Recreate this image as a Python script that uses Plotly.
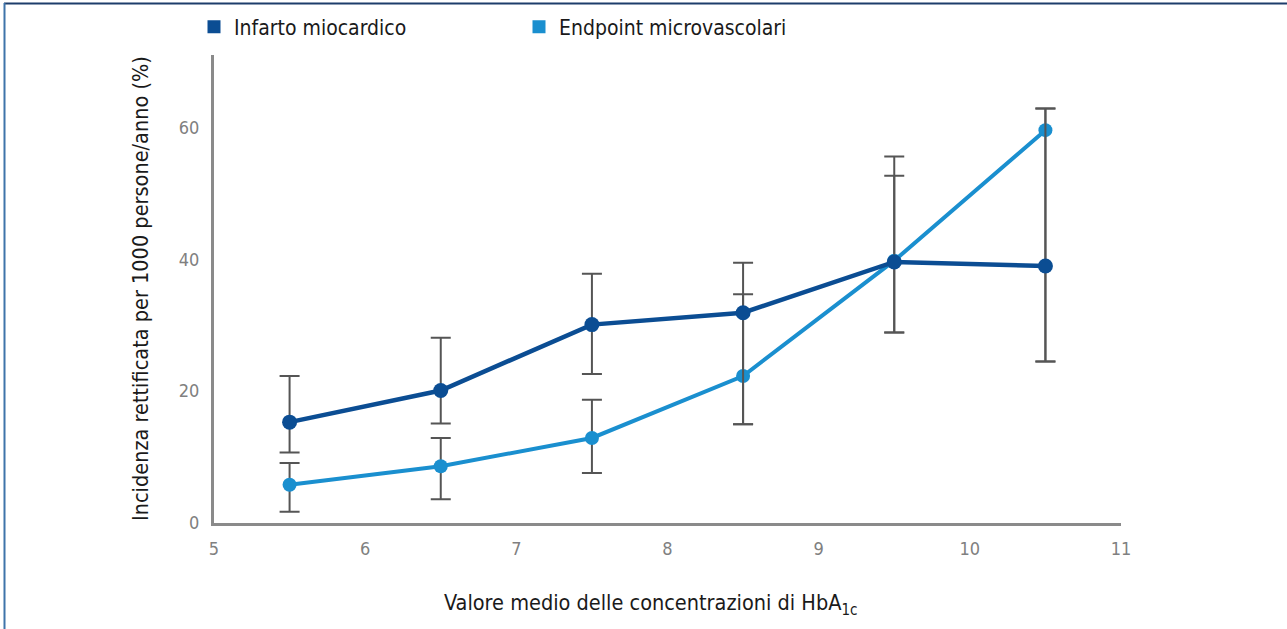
import plotly.graph_objects as go

# HbA1c classes (mean value of each band)
hba1c = [5.5, 6.5, 7.5, 8.5, 9.5, 10.5]

# Myocardial infarction: adjusted incidence and confidence limits
infarto = [15.3, 20.1, 30.1, 31.9, 39.6, 39.0]
infarto_hi = [22.3, 28.1, 37.8, 39.5, 55.6, 62.9]
infarto_lo = [10.7, 15.1, 22.6, 15.0, 28.9, 24.5]

# Microvascular endpoints: adjusted incidence and confidence limits
micro = [5.8, 8.6, 12.9, 22.3, 39.8, 59.6]
micro_hi = [9.1, 12.9, 18.7, 34.7, 52.7, 62.9]
micro_lo = [1.7, 3.6, 7.6, 15.0, 28.9, 24.5]

x_ticks = [5, 6, 7, 8, 9, 10, 11]
y_ticks = [0, 20, 40, 60]

DARK = "#0b4d93"
LIGHT = "#1a8fcf"
ERR = "#555555"
FONT = "Liberation Sans Narrow, DejaVu Sans Condensed, Roboto Condensed, sans-serif"

W, H = 1287, 629
ML, MR, MT, MB = 214, 166, 55, 106
PW, PH = W - ML - MR, H - MT - MB


def px_x(p):
    return (p - ML) / PW


def px_y(p):
    return (H - MB - p) / PH


def err(vals, hi, lo):
    return dict(
        type="data",
        symmetric=False,
        array=[h - v for h, v in zip(hi, vals)],
        arrayminus=[v - l for v, l in zip(vals, lo)],
        color=ERR,
        thickness=2,
        width=10,
    )


fig = go.Figure()

fig.add_trace(go.Scatter(
    x=hba1c, y=micro, mode="lines+markers",
    line=dict(color=LIGHT, width=4),
    marker=dict(color=LIGHT, size=14),
    error_y=err(micro, micro_hi, micro_lo),
    showlegend=False,
))
fig.add_trace(go.Scatter(
    x=hba1c, y=infarto, mode="lines+markers",
    line=dict(color=DARK, width=4.5),
    marker=dict(color=DARK, size=15),
    error_y=err(infarto, infarto_hi, infarto_lo),
    showlegend=False,
))

# legend entries drawn as squares
for name, col in [("Infarto miocardico", DARK), ("Endpoint microvascolari", LIGHT)]:
    fig.add_trace(go.Scatter(
        x=[None], y=[None], mode="markers", name=name,
        marker=dict(color=col, size=13, symbol="square"),
    ))

fig.update_layout(
    width=W, height=H,
    margin=dict(l=ML, r=MR, t=MT, b=MB, autoexpand=False),
    paper_bgcolor="white", plot_bgcolor="white",
    font=dict(family=FONT, color="#222222"),
    legend=dict(
        orientation="h", x=px_x(194), xanchor="left",
        y=px_y(27), yanchor="middle",
        font=dict(size=21, color="#1a1a1a"),
        entrywidth=280, itemclick=False,
        bgcolor="rgba(0,0,0,0)",
    ),
    xaxis=dict(
        range=[5, 11], tickvals=x_ticks, ticks="", showgrid=False,
        zeroline=False, showline=True, linecolor="#8a8a8a", linewidth=3,
        tickfont=dict(size=18, color="#808080"), ticklabelstandoff=7,
    ),
    yaxis=dict(
        range=[0, 71], tickvals=y_ticks, ticks="", showgrid=False,
        zeroline=False, showline=True, linecolor="#8a8a8a", linewidth=3,
        tickfont=dict(size=18, color="#808080"), ticklabelstandoff=8,
    ),
    annotations=[
        dict(
            text="Incidenza rettificata per 1000 persone/anno (%)",
            xref="paper", yref="paper", x=px_x(140), y=px_y(289),
            xanchor="center", yanchor="middle",
            textangle=-90, showarrow=False, font=dict(size=21.5, color="#1a1a1a"),
        ),
        dict(
            text="Valore medio delle concentrazioni di HbA<sub>1c</sub>",
            xref="paper", yref="paper", x=px_x(650), y=px_y(604),
            xanchor="center", yanchor="middle",
            showarrow=False, font=dict(size=21.5, color="#1a1a1a"),
        ),
    ],
    shapes=[
        # page frame: top and left rules
        dict(type="line", xref="paper", yref="paper",
             x0=px_x(4), x1=px_x(W), y0=px_y(3.5), y1=px_y(3.5),
             line=dict(color="#1d3d6b", width=2)),
        dict(type="line", xref="paper", yref="paper",
             x0=px_x(4.5), x1=px_x(4.5), y0=px_y(3), y1=px_y(H),
             line=dict(color="#3f74aa", width=2)),
    ],
)

fig.write_html("out.html")
